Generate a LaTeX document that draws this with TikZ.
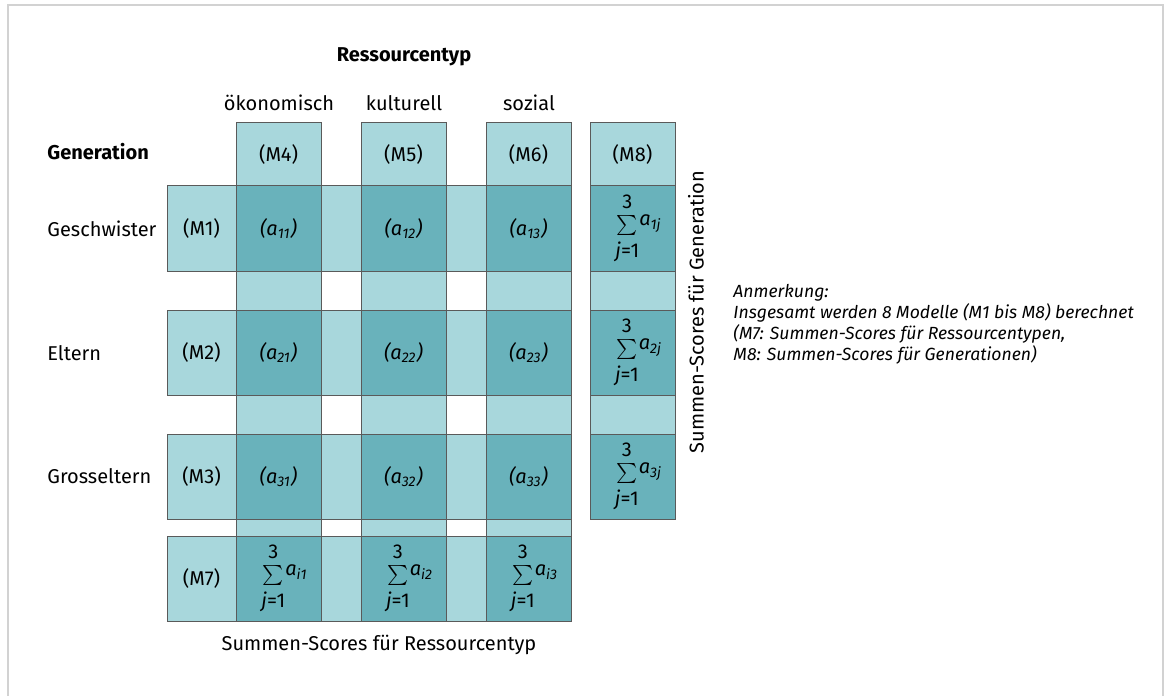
\documentclass[tikz,border=0pt]{standalone}
\usepackage{fontspec}
\setmainfont{Fira Sans}
\usetikzlibrary{positioning}
\definecolor{hell}{HTML}{A8D7DC}
\definecolor{dunkel}{HTML}{69B2BB}
\definecolor{rand}{HTML}{5A5A5A}
\newcommand{\summe}[1]{\hspace{6pt}$\sum\limits_{\rule{0pt}{9.5pt}\mbox{\itshape j\upshape =1}}^{\mbox{3}\rule[-2.5pt]{0pt}{2.5pt}}\!\raisebox{2.5pt}{\itshape a\textsubscript{#1}}$}

\begin{document}
\begin{tikzpicture}[
    x=0.5pt, y=-0.5pt,
    font=\fontsize{10}{12}\selectfont,
    cell/.style={draw=rand, line width=0.5pt, inner sep=0pt, minimum width=42.5pt, minimum height=42.5pt},
    light/.style={cell, fill=hell},
    dark/.style={cell, fill=dunkel},
    head/.style={minimum height=31.5pt},
    gapcol/.style={minimum width=20pt},
    gaprow/.style={minimum height=19.5pt},
    mcol/.style={minimum width=34.5pt}
]
    \useasboundingbox (0,0) rectangle (1170,695);
    \draw[gray!35, line width=1pt] (8,700) -- (8,5) -- (1163,5) -- (1163,700);

    % Kopfzeilen
    \node[font=\bfseries] (typ) at (404,57) {Ressourcentyp};
    \node (oek) at (279,103) {ökonomisch};
    \node (kult) at (404,103) {kulturell};
    \node (soz) at (529,103) {sozial};
    \node[font=\bfseries, anchor=west, inner sep=0pt] (gen) at (47,152) {Generation};
    \node[anchor=west, inner sep=0pt] (g1) at (47,229) {Geschwister};
    \node[anchor=west, inner sep=0pt] (g2) at (47,353) {Eltern};
    \node[anchor=west, inner sep=0pt] (g3) at (47,476) {Grosseltern};

    % Modelle M4 bis M6, M8
    \node[light, head] (m4) at (278.5,154.5) {(M4)};
    \node[light, head] (m5) at (403.5,154.5) {(M5)};
    \node[light, head] (m6) at (528.5,154.5) {(M6)};
    \node[light, head] (m8) at (632.5,154.5) {(M8)};

    % Zwischenzeilen
    \foreach \y/\h in {290.5/19.5pt, 414.5/19.5pt, 527.5/8.5pt} {
        \node[light, minimum height=\h] at (278.5,\y) {};
        \node[light, minimum height=\h] at (403.5,\y) {};
        \node[light, minimum height=\h] at (528.5,\y) {};
    }
    \node[light, gaprow] (s12) at (632.5,290.5) {};
    \node[light, gaprow] (s23) at (632.5,414.5) {};

    % Geschwister
    \node[light, mcol] (m1) at (201.5,228.5) {(M1)};
    \node[dark] (a11) at (278.5,228.5) {\itshape(a\textsubscript{11})};
    \node[light, gapcol] at (341,228.5) {};
    \node[dark] (a12) at (403.5,228.5) {\itshape(a\textsubscript{12})};
    \node[light, gapcol] at (466,228.5) {};
    \node[dark] (a13) at (528.5,228.5) {\itshape(a\textsubscript{13})};
    \node[dark] (s1) at (632.5,228.5) {\summe{1j}};

    % Eltern
    \node[light, mcol] (m2) at (201.5,352.5) {(M2)};
    \node[dark] (a21) at (278.5,352.5) {\itshape(a\textsubscript{21})};
    \node[light, gapcol] at (341,352.5) {};
    \node[dark] (a22) at (403.5,352.5) {\itshape(a\textsubscript{22})};
    \node[light, gapcol] at (466,352.5) {};
    \node[dark] (a23) at (528.5,352.5) {\itshape(a\textsubscript{23})};
    \node[dark] (s2) at (632.5,352.5) {\summe{2j}};

    % Grosseltern
    \node[light, mcol] (m3) at (201.5,476.5) {(M3)};
    \node[dark] (a31) at (278.5,476.5) {\itshape(a\textsubscript{31})};
    \node[light, gapcol] at (341,476.5) {};
    \node[dark] (a32) at (403.5,476.5) {\itshape(a\textsubscript{32})};
    \node[light, gapcol] at (466,476.5) {};
    \node[dark] (a33) at (528.5,476.5) {\itshape(a\textsubscript{33})};
    \node[dark] (s3) at (632.5,476.5) {\summe{3j}};

    % Summen-Scores (M7)
    \node[light, mcol] (m7) at (201.5,578.5) {(M7)};
    \node[dark] (r1) at (278.5,578.5) {\summe{i1}};
    \node[light, gapcol] at (341,578.5) {};
    \node[dark] (r2) at (403.5,578.5) {\summe{i2}};
    \node[light, gapcol] at (466,578.5) {};
    \node[dark] (r3) at (528.5,578.5) {\summe{i3}};

    \node (sr) at (379,645) {Summen-Scores für Ressourcentyp};
    \node[rotate=90] (sg) at (696,312) {Summen-Scores für Generation};

    % Anmerkung
    \node[anchor=west, align=left, inner sep=0pt, font=\fontsize{8.8}{10.5}\selectfont\itshape] (note) at (733,324)
        {Anmerkung:\\Insgesamt werden 8 Modelle (M1 bis M8) berechnet\\(M7: Summen-Scores für Ressourcentypen,\\M8: Summen-Scores für Generationen)};
\end{tikzpicture}
\end{document}
